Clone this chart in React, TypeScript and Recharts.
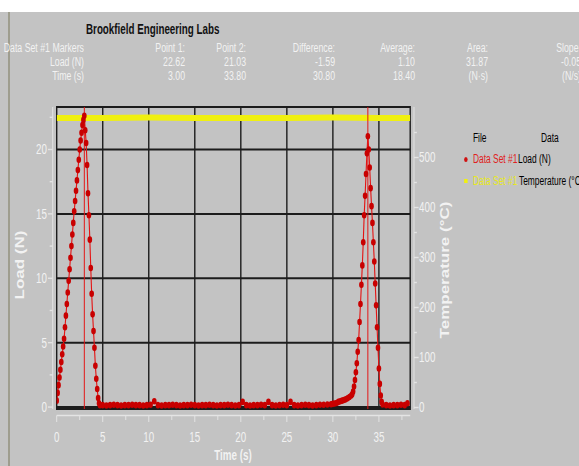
import React from 'react'
import {
    LineChart,
    Line,
    XAxis,
    YAxis,
    ReferenceLine,
    ReferenceArea,
} from 'recharts'

// time (s) and load (N) of data set #1
const LOAD_TIME = [
    0, 0.1, 0.2, 0.3, 0.4, 0.5, 0.6, 0.7, 0.8, 0.9, 1.0, 1.1, 1.2, 1.3, 1.4, 1.5,
    1.6, 1.7, 1.8, 1.9, 2.0, 2.1, 2.2, 2.3, 2.4, 2.5, 2.6, 2.7, 2.8, 2.9, 3.0,
    3.1, 3.2, 3.3, 3.4, 3.5, 3.6, 3.7, 3.8, 3.9, 4.0, 4.1, 4.2, 4.3, 4.4, 4.5, 4.6, 4.7,
    5.0, 5.4, 5.8, 6.2, 6.6, 7.0, 7.4, 7.8, 8.2, 8.6,
    9.0, 9.4, 9.8, 10.2, 10.6, 11.0, 11.4, 11.8, 12.2, 12.6,
    13.0, 13.4, 13.8, 14.2, 14.6, 15.0, 15.4, 15.8, 16.2, 16.6,
    17.0, 17.4, 17.8, 18.2, 18.6, 19.0, 19.4, 19.8, 20.2, 20.6,
    21.0, 21.4, 21.8, 22.2, 22.6, 23.0, 23.4, 23.8, 24.2, 24.6,
    25.0, 25.4, 25.8, 26.2, 26.6, 27.0, 27.4, 27.8, 28.2, 28.6,
    29.0, 29.4, 29.8,
    30.0, 30.2, 30.4, 30.6, 30.8, 31.0, 31.2, 31.4, 31.6, 31.8, 32.0, 32.1, 32.2,
    32.3, 32.4, 32.5, 32.6, 32.7, 32.8, 32.9, 33.0, 33.1, 33.2, 33.3, 33.4, 33.5, 33.6, 33.7, 33.8,
    33.9, 34.0, 34.1, 34.2, 34.3, 34.4, 34.5, 34.6, 34.7, 34.8, 34.9, 35.0, 35.1, 35.2, 35.3, 35.4,
    35.8, 36.2, 36.6, 37.0, 37.4, 37.8, 38.1,
]
const LOAD_VALUE = [
    0.5, 1.1, 1.7, 2.3, 2.9, 3.5, 4.1, 4.7, 5.3, 6.2, 7.1, 8.0, 8.9, 9.8, 10.7, 11.6,
    12.5, 13.4, 14.3, 15.2, 16.0, 16.8, 17.6, 18.4, 19.2, 20.0, 20.7, 21.3, 21.9, 22.3, 22.62,
    21.5, 20.5, 18.8, 16.6, 14.9, 13.0, 10.8, 8.8, 7.2, 5.9, 4.6, 3.2, 2.2, 1.4, 0.7, 0.3, 0.15,
    0.15, 0.12, 0.15, 0.18, 0.15, 0.12, 0.15, 0.15, 0.18, 0.15,
    0.15, 0.12, 0.15, 0.18, 0.45, 0.15, 0.12, 0.15, 0.15, 0.18,
    0.15, 0.12, 0.15, 0.15, 0.18, 0.15, 0.12, 0.15, 0.15, 0.18,
    0.15, 0.12, 0.15, 0.15, 0.18, 0.15, 0.12, 0.15, 0.4, 0.15,
    0.12, 0.15, 0.15, 0.18, 0.15, 0.4, 0.15, 0.12, 0.15, 0.18,
    0.15, 0.4, 0.15, 0.12, 0.15, 0.18, 0.15, 0.12, 0.15, 0.18,
    0.18, 0.2, 0.22,
    0.25, 0.28, 0.32, 0.4, 0.45, 0.5, 0.55, 0.6, 0.68, 0.78, 0.9, 1.0, 1.2,
    1.6, 2.1, 2.7, 3.4, 4.3, 5.2, 6.6, 8.0, 9.5, 11.0, 12.8, 14.9, 16.4, 18.1, 19.7, 21.03,
    20.0, 18.6, 17.0, 15.6, 14.3, 12.8, 11.3, 9.6, 7.9, 6.2, 4.6, 3.0, 1.8, 0.9, 0.4, 0.2,
    0.15, 0.12, 0.15, 0.15, 0.18, 0.15, 0.3,
]

const TEMP_TIME = [0, 5, 10, 15, 20, 25, 30, 35, 38.4]
const TEMP_VALUE = [579, 579, 580, 579, 579, 579, 580, 579, 579]

const MARKER_TIME = [3.0, 33.8]

const X_TICKS = [0, 2.5, 5, 7.5, 10, 12.5, 15, 17.5, 20, 22.5, 25, 27.5, 30, 32.5, 35, 37.5]
const X_GRID = [5, 10, 15, 20, 25, 30, 35]
const LOAD_TICKS = [0, 2.5, 5, 7.5, 10, 12.5, 15, 17.5, 20, 22.5]
const LOAD_GRID = [0, 5, 10, 15, 20]
const TEMP_TICKS = [0, 50, 100, 150, 200, 250, 300, 350, 400, 450, 500, 550]

const STAT_HEAD = ['Data Set #1 Markers', 'Point 1:', 'Point 2:', 'Difference:', 'Average:', 'Area:', 'Slope:']
const STAT_LOAD = ['Load (N)', '22.62', '21.03', '-1.59', '1.10', '31.87', '-0.05']
const STAT_TIME = ['Time (s)', '3.00', '33.80', '30.80', '18.40', '(N·s)', '(N/s)']

// the original screenshot is squeezed horizontally; draw wide, then scale
const S = 0.7
const W = 827
const H = 466
const FONT = '"Liberation Sans", Arial, sans-serif'
const BG = '#c3c3c3'
const LIGHT = '#f2f2f2'
const AXIS = '#e4e4e4'
const GRID = '#1c1c1c'
const RED = '#e41414'
const YELLOW = '#f0f010'

const loadData = LOAD_TIME.map((t, i) => ({ t, load: LOAD_VALUE[i] }))
const tempData = TEMP_TIME.map((t, i) => ({ t, temp: TEMP_VALUE[i] }))

const LeftTick = (p: any) => {
    const major = p.payload.value % 5 === 0
    return (
        <g>
            <line x1={p.x - 5.7} x2={p.x - (major ? 12.5 : 10)} y1={p.y} y2={p.y} stroke={AXIS} strokeWidth={1.4} />
            {major && (
                <text x={p.x - 14} y={p.y + 5} textAnchor="end" fill={LIGHT} fontSize={14} fontFamily={FONT}>
                    {p.payload.value}
                </text>
            )}
        </g>
    )
}

const RightTick = (p: any) => {
    const major = p.payload.value % 100 === 0
    return (
        <g>
            <line x1={p.x + 5.4} x2={p.x + (major ? 12 : 9.5)} y1={p.y} y2={p.y} stroke={AXIS} strokeWidth={1.4} />
            {major && (
                <text x={p.x + 12.6} y={p.y + 5} textAnchor="start" fill={LIGHT} fontSize={14} fontFamily={FONT}>
                    {p.payload.value}
                </text>
            )}
        </g>
    )
}

const BottomTick = (p: any) => {
    const major = p.payload.value % 5 === 0
    return (
        <g>
            <line x1={p.x} x2={p.x} y1={p.y + 6.5} y2={p.y + (major ? 13 : 11)} stroke={AXIS} strokeWidth={1.4} />
            {major && (
                <text x={p.x} y={p.y + 33} textAnchor="middle" fill={LIGHT} fontSize={14} fontFamily={FONT}>
                    {p.payload.value}
                </text>
            )}
        </g>
    )
}

const abs = (extra: React.CSSProperties): React.CSSProperties => ({
    position: 'absolute',
    whiteSpace: 'nowrap',
    fontFamily: FONT,
    ...extra,
})

const COL_RIGHT = [84, 185, 246, 335, 415, 488, 581]
const ROW_TOP = [41, 55, 69]

export default function App() {
    return (
        <div style={{ position: 'absolute', left: 0, top: 0, width: 579, height: H, overflow: 'hidden', background: '#ffffff' }}>
            <div style={{ position: 'absolute', left: 0, top: 12, width: 579, height: H - 12, background: BG }} />
            <div style={{ position: 'absolute', left: 8, top: 12, width: 2, height: H - 12, background: '#9e9d8e' }} />

            <div style={{ position: 'absolute', left: 0, top: 0, width: W, height: H, transform: `scaleX(${S})`, transformOrigin: '0 0' }}>
                <LineChart width={W} height={H} margin={{ top: 107, right: 185, bottom: 0, left: 0 }}>
                    <XAxis
                        type="number"
                        dataKey="t"
                        domain={[0, 38.4]}
                        allowDataOverflow
                        ticks={X_TICKS}
                        interval={0}
                        height={57}
                        tickSize={0}
                        tickMargin={0}
                        tick={<BottomTick />}
                        axisLine={{ stroke: AXIS, strokeWidth: 1.4, transform: 'translate(0 6.5)' }}
                    />
                    <YAxis
                        yAxisId="load"
                        orientation="left"
                        type="number"
                        domain={[-0.15, 23.3]}
                        allowDataOverflow
                        ticks={LOAD_TICKS}
                        interval={0}
                        width={81}
                        tickSize={0}
                        tickMargin={0}
                        tick={<LeftTick />}
                        axisLine={{ stroke: AXIS, strokeWidth: 1.4, transform: 'translate(-5.7 0)' }}
                    />
                    <YAxis
                        yAxisId="temp"
                        orientation="right"
                        type="number"
                        domain={[-3, 601]}
                        allowDataOverflow
                        ticks={TEMP_TICKS}
                        interval={0}
                        width={56}
                        tickSize={0}
                        tickMargin={0}
                        tick={<RightTick />}
                        axisLine={{ stroke: AXIS, strokeWidth: 1.4, transform: 'translate(5.4 0)' }}
                    />

                    <ReferenceArea
                        yAxisId="load"
                        x1={0}
                        x2={38.4}
                        y1={-0.15}
                        y2={23.3}
                        fill="none"
                        fillOpacity={0}
                        stroke={GRID}
                        strokeWidth={2}
                    />
                    {X_GRID.map((v) => (
                        <ReferenceLine key={'gx' + v} yAxisId="load" x={v} stroke={GRID} strokeWidth={2} />
                    ))}
                    {LOAD_GRID.map((v) => (
                        <ReferenceLine key={'gy' + v} yAxisId="load" y={v} stroke={GRID} strokeWidth={2} />
                    ))}

                    <Line
                        yAxisId="temp"
                        data={tempData}
                        dataKey="temp"
                        type="linear"
                        stroke={YELLOW}
                        strokeWidth={6}
                        dot={false}
                        isAnimationActive={false}
                    />

                    {MARKER_TIME.map((v) => (
                        <ReferenceLine key={'m' + v} yAxisId="load" x={v} stroke={RED} strokeWidth={1.4} />
                    ))}

                    <Line
                        yAxisId="load"
                        data={loadData}
                        dataKey="load"
                        type="linear"
                        stroke={RED}
                        strokeWidth={1.6}
                        dot={{ r: 3.3, fill: '#c80000', stroke: 'none' }}
                        isAnimationActive={false}
                    />
                </LineChart>

                {/* title */}
                <div style={abs({ left: 86 / S, top: 21, fontSize: 14, fontWeight: 700, color: '#111', lineHeight: '16px' })}>
                    Brookfield Engineering Labs
                </div>

                {/* marker table */}
                {[STAT_HEAD, STAT_LOAD, STAT_TIME].map((row, r) =>
                    row.map((cell, c) => (
                        <div
                            key={r + '-' + c}
                            style={abs({
                                right: W - COL_RIGHT[c] / S,
                                top: ROW_TOP[r],
                                fontSize: 12.5,
                                lineHeight: '14px',
                                color: LIGHT,
                                textAlign: 'right',
                            })}
                        >
                            {cell}
                        </div>
                    ))
                )}

                {/* axis titles */}
                <div style={abs({ left: 20 / S, top: 265, transform: 'translate(-50%,-50%) rotate(-90deg)', fontSize: 17, fontWeight: 700, color: LIGHT, lineHeight: '18px' })}>
                    Load (N)
                </div>
                <div style={abs({ left: 446 / S, top: 270, transform: 'translate(-50%,-50%) rotate(-90deg)', fontSize: 17, fontWeight: 700, color: LIGHT, lineHeight: '18px' })}>
                    Temperature (°C)
                </div>
                <div style={abs({ left: 233 / S, top: 455, transform: 'translate(-50%,-50%)', fontSize: 14, fontWeight: 700, color: LIGHT, lineHeight: '16px' })}>
                    Time (s)
                </div>

                {/* legend */}
                <div style={abs({ left: 473 / S, top: 131, fontSize: 12, lineHeight: '14px', color: '#000' })}>File</div>
                <div style={abs({ left: 541 / S, top: 131, fontSize: 12, lineHeight: '14px', color: '#000' })}>Data</div>

                <div style={{ position: 'absolute', left: 466 / S - 2.5, top: 156.5, width: 5, height: 5, borderRadius: '50%', background: '#d01010' }} />
                <div style={abs({ left: 473 / S, top: 152, fontSize: 12, lineHeight: '14px', color: '#e02020' })}>Data Set #1</div>
                <div style={abs({ left: 518 / S, top: 152, fontSize: 12, lineHeight: '14px', color: '#000' })}>Load (N)</div>

                <div style={{ position: 'absolute', left: 466 / S - 2.5, top: 179, width: 5, height: 4, background: YELLOW }} />
                <div style={abs({ left: 473 / S, top: 174, fontSize: 12, lineHeight: '14px', color: '#e8e820' })}>Data Set #1</div>
                <div style={abs({ left: 519 / S, top: 174, fontSize: 12, lineHeight: '14px', color: '#000' })}>Temperature (°C)</div>
            </div>
        </div>
    )
}
